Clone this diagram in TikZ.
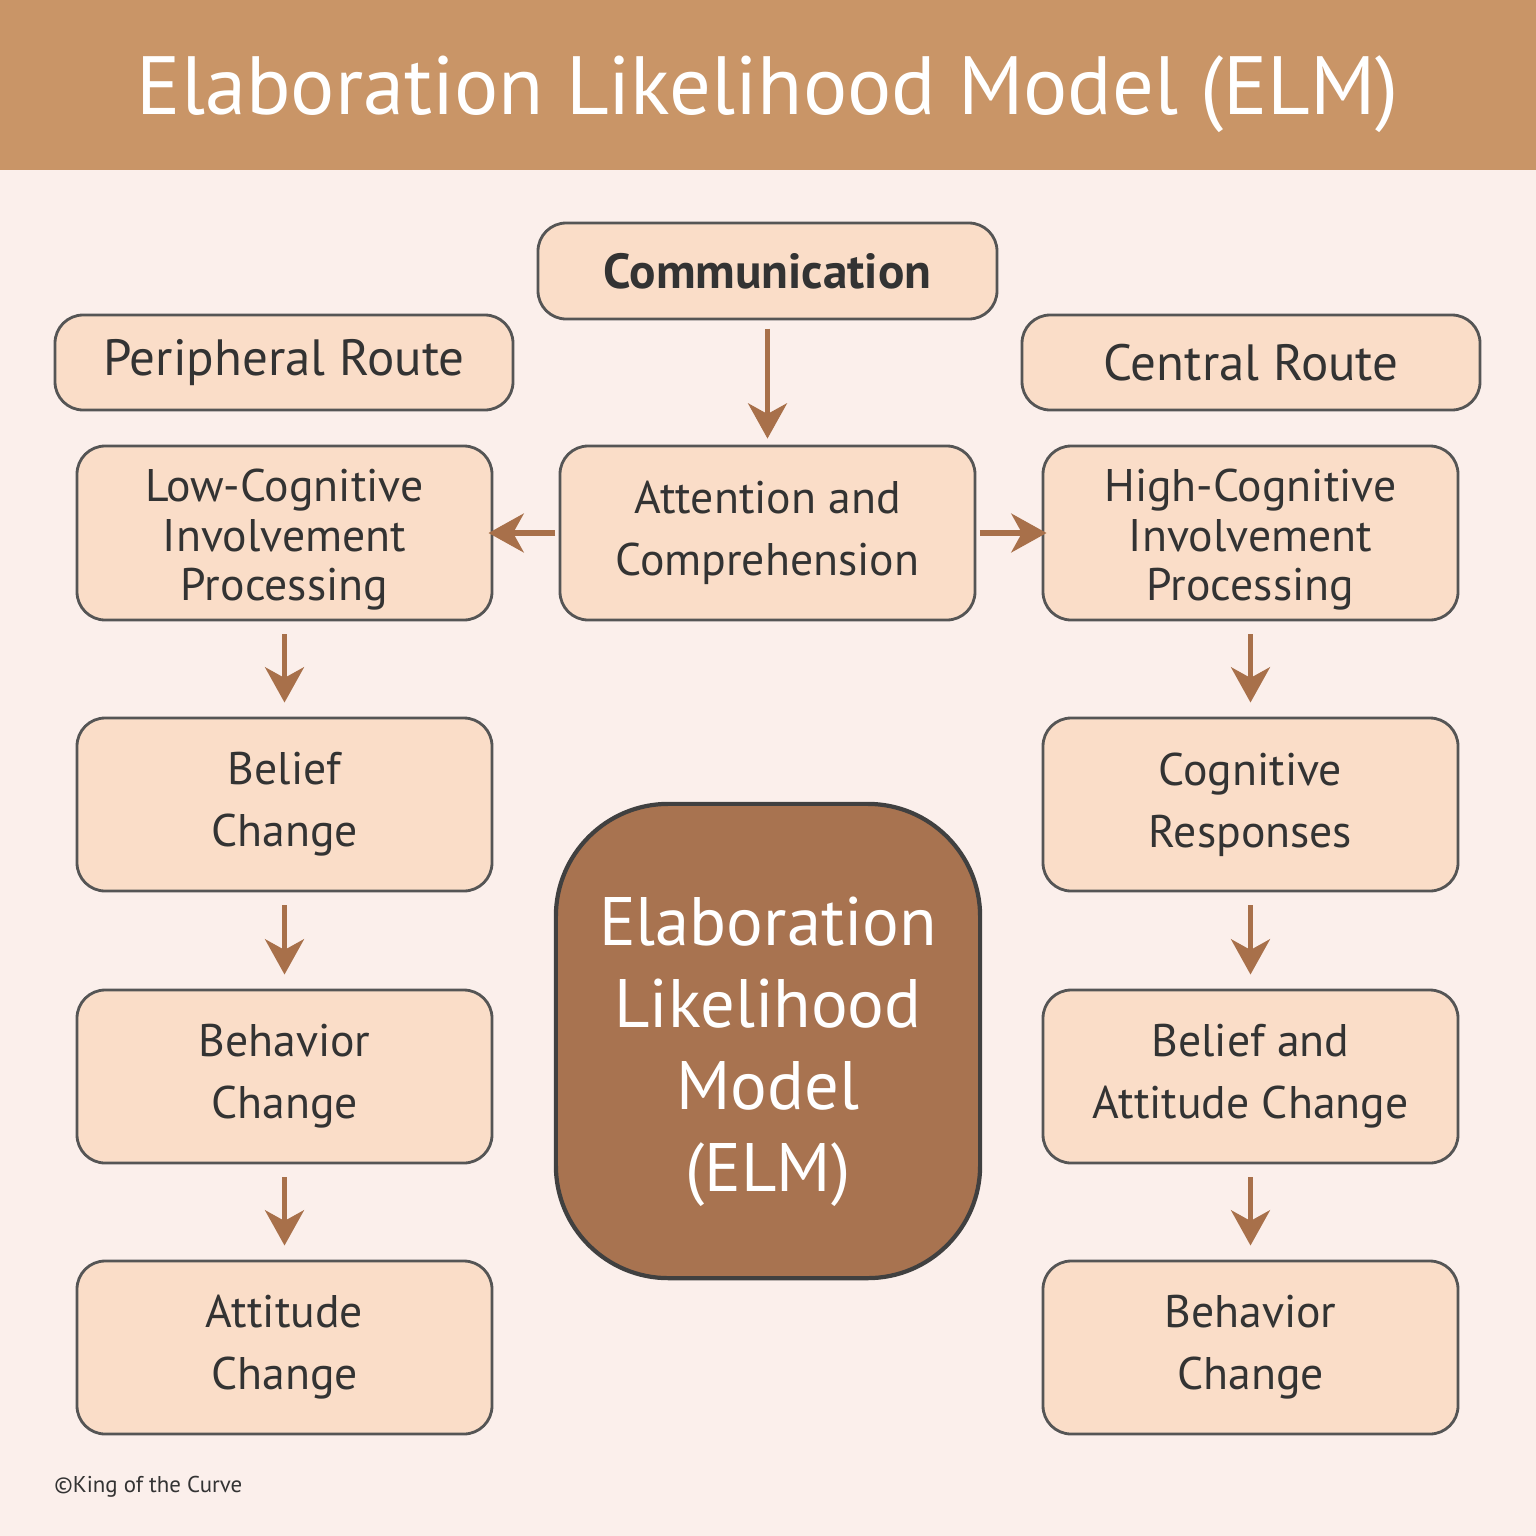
\documentclass[tikz,border=0pt]{standalone}
\usepackage{fontspec}
\setmainfont{PT Sans}
\usetikzlibrary{arrows.meta}
\definecolor{bg}{HTML}{FBEFEB}
\definecolor{banner}{HTML}{C99567}
\definecolor{boxf}{HTML}{FADDC8}
\definecolor{arr}{HTML}{A8704A}
\definecolor{elm}{HTML}{A87350}
\definecolor{edge}{HTML}{555555}
\begin{document}
\begin{tikzpicture}[x=0.01cm,y=-0.01cm,
 box/.style={draw=edge,line width=0.8pt,fill=boxf,rounded corners=8pt,text=black!80,align=center,inner sep=0},
 ar/.style={draw=arr,line width=1.6pt,-{Stealth[length=10pt,width=11pt,inset=3pt]}},
 t2/.style={font=\fontsize{13}{17.6}\selectfont},
 t3/.style={font=\fontsize{13}{14.2}\selectfont}]
\useasboundingbox (0,0) rectangle (1536,1536);
\fill[bg] (0,0) rectangle (1536,1536);
\fill[banner] (0,0) rectangle (1536,170);
\node[text=white,font=\fontsize{23.5}{28}\selectfont] (title) at (768,94) {Elaboration Likelihood Model (ELM)};
\newcommand\bx[6]{\node[box,#6,minimum width={(#3-#2)*0.01cm},minimum height={(#5-#4)*0.01cm}] (#1) at ({(#2+#3)/2},{(#4+#5)/2})}
\bx{comm}{538}{997}{223}{319}{font=\fontsize{14}{17}\selectfont\bfseries}{Communication};
\bx{peri}{55}{513}{315}{410}{font=\fontsize{14.5}{17}\selectfont}{Peripheral Route};
\bx{cent}{1022}{1480}{315}{410}{font=\fontsize{14.5}{17}\selectfont}{Central Route};
\bx{low}{77}{492}{446}{620}{t3}{\rule{0pt}{13pt}Low-Cognitive\\Involvement\\Processing};
\bx{att}{560}{975}{446}{620}{t2}{Attention and\\Comprehension};
\bx{high}{1043}{1458}{446}{620}{t3}{\rule{0pt}{13pt}High-Cognitive\\Involvement\\Processing};
\bx{bel}{77}{492}{718}{891}{t2}{Belief\\Change};
\bx{beh}{77}{492}{990}{1163}{t2}{Behavior\\Change};
\bx{attc}{77}{492}{1261}{1434}{t2}{Attitude\\Change};
\bx{cog}{1043}{1458}{718}{891}{t2}{Cognitive\\Responses};
\bx{bac}{1043}{1458}{990}{1163}{t2}{Belief and\\Attitude Change};
\bx{behr}{1043}{1458}{1261}{1434}{t2}{Behavior\\Change};
\node[draw=black!75,line width=1.2pt,fill=elm,rounded corners=32pt,minimum width=4.24cm,minimum height=4.74cm,text=white,align=center,inner sep=0,font=\fontsize{19.5}{23.3}\selectfont] (elm) at (768,1041) {\rule{0pt}{20pt}Elaboration\\Likelihood\\Model\\(ELM)};
\draw[ar] ([yshift=-2.3pt]comm.south) -- ([yshift=1.7pt]att.north);
\draw[ar] ([xshift=-1pt]att.west) -- ([xshift=-1.4pt]low.east);
\draw[ar] ([xshift=1pt]att.east) -- ([xshift=1.4pt]high.west);
\foreach \a/\b in {low/bel,bel/beh,beh/attc,high/cog,cog/bac,bac/behr}
 \draw[ar] ([yshift=-3.7pt]\a.south) -- ([yshift=4pt]\b.north);
\node[anchor=west,text=black!80,font=\fontsize{6.5}{8}\selectfont] (copy) at (42,1487) {©King of the Curve};
\end{tikzpicture}
\end{document}
